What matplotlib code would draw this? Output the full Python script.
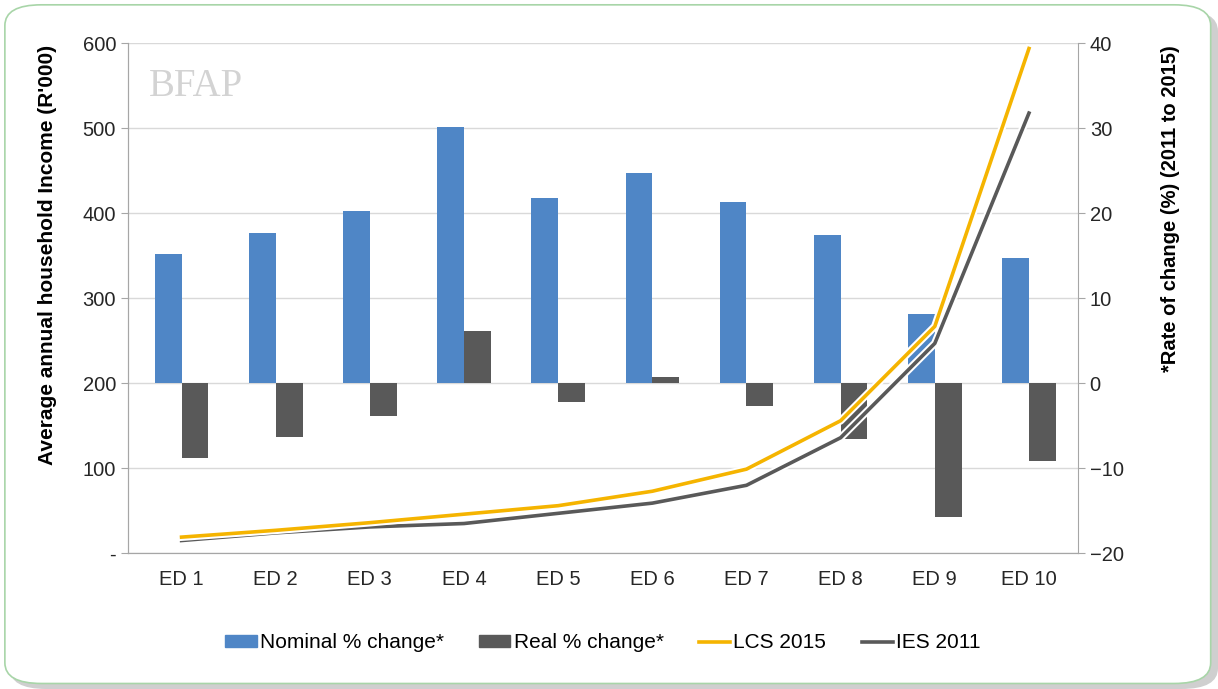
import matplotlib.pyplot as plt
import matplotlib.patheffects as pe
from matplotlib.patches import FancyBboxPatch, Patch
from matplotlib.lines import Line2D
from matplotlib.ticker import FuncFormatter
import numpy as np

plt.rcParams['font.family'] = ['Liberation Sans', 'DejaVu Sans']

categories = ['ED 1', 'ED 2', 'ED 3', 'ED 4', 'ED 5', 'ED 6', 'ED 7', 'ED 8', 'ED 9', 'ED 10']
nominal = [15.2, 17.7, 20.3, 30.2, 21.8, 24.8, 21.3, 17.4, 8.2, 14.7]
real = [-8.8, -6.3, -3.8, 6.2, -2.2, 0.7, -2.7, -6.6, -15.7, -9.2]
lcs_2015 = [19, 27, 36, 46, 56, 73, 99, 156, 267, 594]
ies_2011 = [15, 24, 31, 35, 47, 59, 80, 136, 247, 518]

blue = '#4f86c6'
dark = '#595959'
gold = '#f5b400'

fig = plt.figure(figsize=(12.18, 6.89), dpi=100)

# rounded frame with shadow
fig.patches.append(FancyBboxPatch((0.008, 0.0), 0.992, 0.985, boxstyle='round,pad=0,rounding_size=0.03',
                                  transform=fig.transFigure, fc='#cfcfcf', ec='none', zorder=-3))
fig.patches.append(FancyBboxPatch((0.004, 0.008), 0.99, 0.985, boxstyle='round,pad=0,rounding_size=0.03',
                                  transform=fig.transFigure, fc='white', ec='#a8d5a8', lw=1.2, zorder=-2))

# faint logo text
fig.text(0.122, 0.86, 'BFAP', fontsize=28, family='Liberation Serif', color='#d3d3d3', zorder=-1)

ax = fig.add_axes([0.105, 0.197, 0.78, 0.74])
ax2 = ax.twinx()
x = np.arange(len(categories))
w = 0.285

ax2.bar(x - w / 2, nominal, w, color=blue, zorder=3)
ax2.bar(x + w / 2, real, w, color=dark, zorder=3)
ax2.set_ylim(-20, 40)
ax2.set_yticks(range(-20, 41, 10))
ax2.yaxis.grid(True, color='#d9d9d9', lw=1)
ax2.set_axisbelow(True)
ax2.set_ylabel('*Rate of change (%) (2011 to 2015)', fontsize=14.5, fontweight='bold')
ax2.yaxis.set_label_coords(1.087, 0.675)
ax2.patch.set_visible(False)

outline = [pe.Stroke(linewidth=5.5, foreground='white'), pe.Normal()]
ax.plot(x, ies_2011, color=dark, lw=2.6, path_effects=outline)
ax.plot(x, lcs_2015, color=gold, lw=2.6, path_effects=outline)
ax.set_ylim(0, 600)
ax.set_yticks(range(0, 601, 100))
ax.yaxis.set_major_formatter(FuncFormatter(lambda v, p: '-' if v == 0 else f'{int(v)}'))
ax.set_ylabel("Average annual household Income (R'000)", fontsize=15, fontweight='bold')
ax.yaxis.set_label_coords(-0.075, 0.585)
ax.set_xlim(-0.57, 9.52)
ax.set_xticks(x)
ax.set_xticklabels(categories)
ax.set_zorder(ax2.get_zorder() + 1)
ax.patch.set_visible(False)

for a in (ax, ax2):
    for s in a.spines.values():
        s.set_color('#a6a6a6')
    a.spines['top'].set_visible(False)
    a.tick_params(colors='#a6a6a6', labelcolor='#262626', labelsize=14.5, length=5)
ax.tick_params(axis='x', length=0, pad=12)
ax.spines['right'].set_visible(False)

handles = [Patch(color=blue), Patch(color=dark),
           Line2D([], [], color=gold, lw=2.6), Line2D([], [], color=dark, lw=2.6)]
labels = ['Nominal % change*', 'Real % change*', 'LCS 2015', 'IES 2011']
fig.legend(handles, labels, loc='center', bbox_to_anchor=(0.495, 0.067), ncol=4, frameon=False,
           fontsize=15, handlelength=1.5, handleheight=0.45, handletextpad=0.15, columnspacing=1.7)

fig.savefig('out.png', dpi=100)
